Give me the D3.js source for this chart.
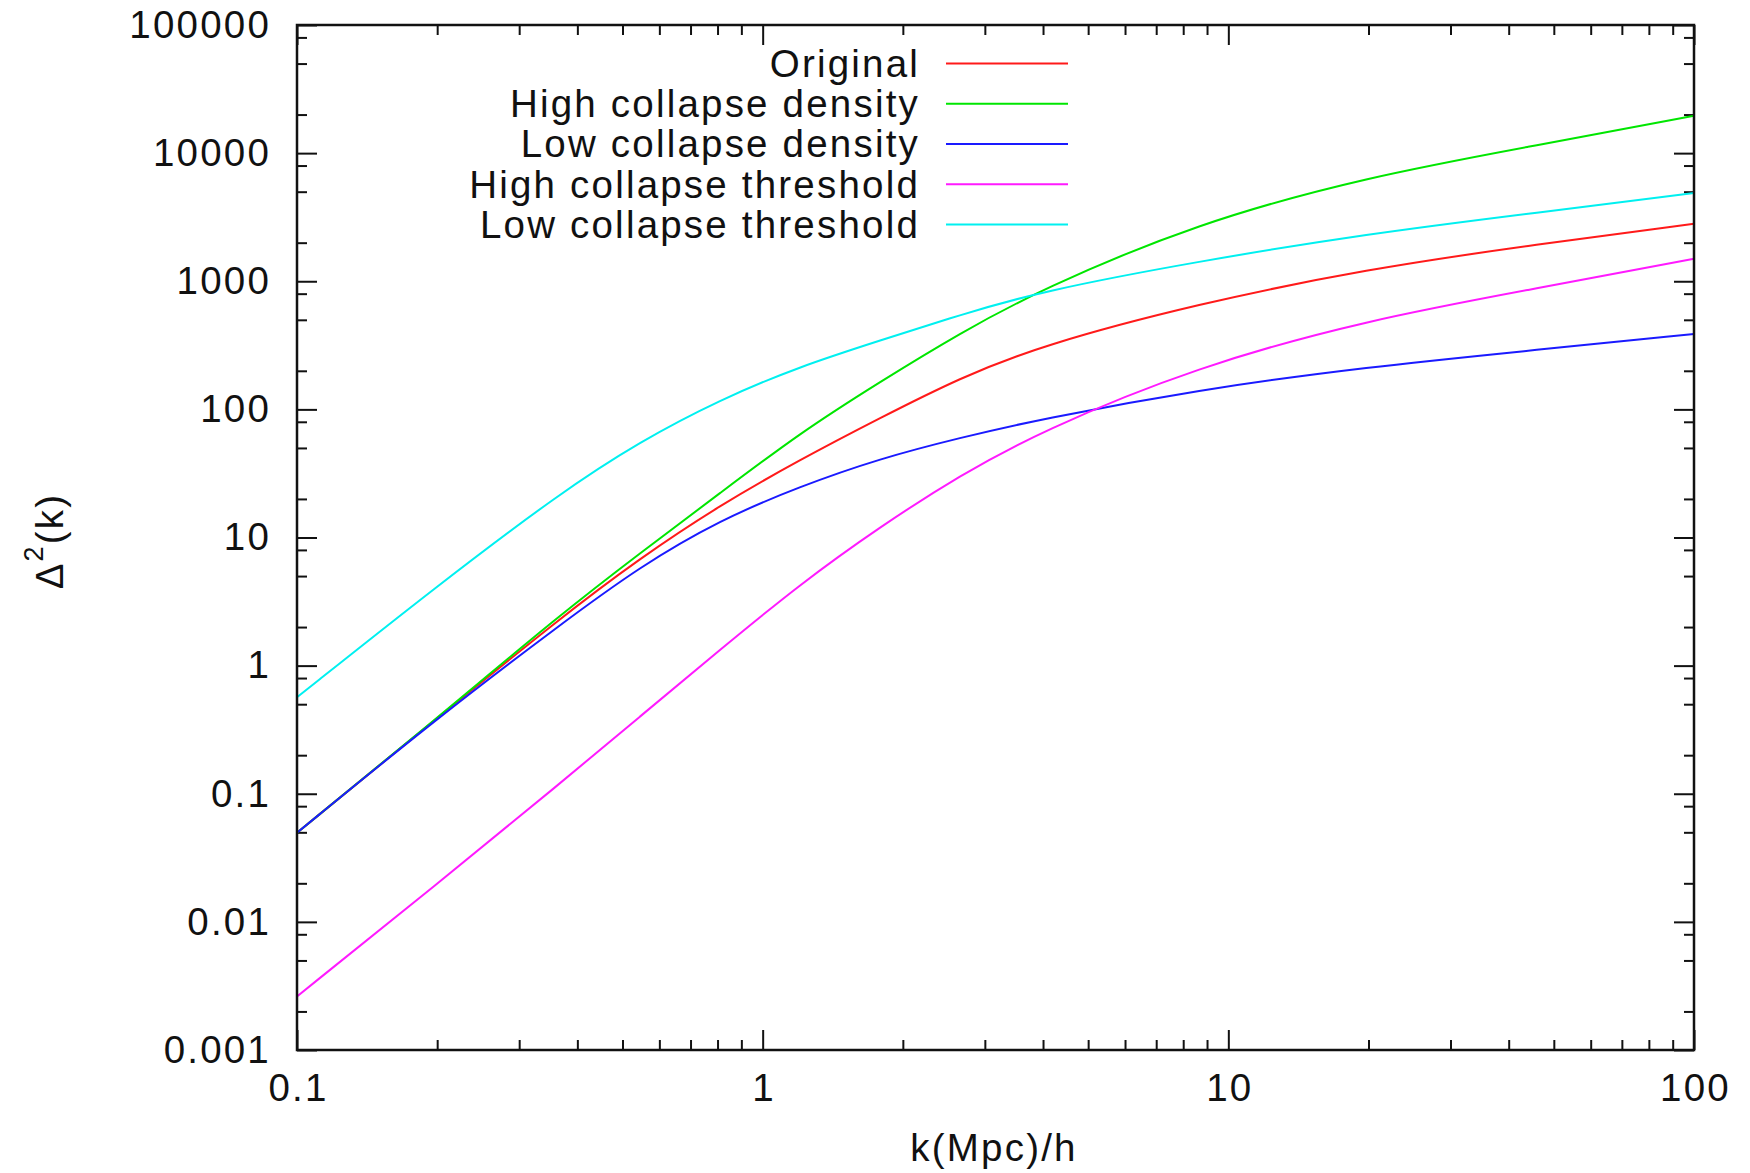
<!DOCTYPE html>
<html>
<head>
<meta charset="utf-8">
<script src="https://cdn.jsdelivr.net/npm/d3@7"></script>
<style>
  body { margin: 0; background: #fff; }
  text { font-family: "Liberation Sans", Arial, sans-serif; fill: #111; letter-spacing: 2.2px; }
</style>
</head>
<body>
<svg id="chart"></svg>
<script>
// wavenumbers (k in Mpc/h)
const kValues = [0.1, 0.2, 0.367, 0.545, 0.81, 1.2, 1.79, 2.65, 3.94, 8.55, 20, 43.7, 100];

const original      = [0.0496, 0.39, 2.34, 6.89, 17.9, 40.3, 86, 176, 313, 665, 1250, 1890, 2805];
const highDensity   = [0.0496, 0.39, 2.49, 7.54, 22.2, 65.2, 165, 393, 857, 2843, 6560, 11140, 19550];
const lowDensity    = [0.0496, 0.39, 2.08, 5.93, 13.7, 25.0, 41.5, 60, 83.8, 142, 215, 286, 388];
const highThreshold = [0.00262, 0.0198, 0.12, 0.40, 1.33, 4.3, 12.2, 30.5, 67.1, 216, 500, 851, 1496];
const lowThreshold  = [0.566, 4.2, 22.2, 56.1, 119, 216, 345, 545, 831, 1426, 2350, 3357, 4875];

const seriesNames = ["Original", "High collapse density", "Low collapse density",
                     "High collapse threshold", "Low collapse threshold"];
const seriesColors = ["#ff1a1a", "#00e600", "#1a1aff", "#ff1aff", "#00f0f0"];
const seriesValues = [original, highDensity, lowDensity, highThreshold, lowThreshold];

const xTickValues = [0.1, 1, 10, 100];
const xTickLabels = ["0.1", "1", "10", "100"];
const yTickValues = [0.001, 0.01, 0.1, 1, 10, 100, 1000, 10000, 100000];
const yTickLabels = ["0.001", "0.01", "0.1", "1", "10", "100", "1000", "10000", "100000"];

const width = 1750, height = 1173;
const plot = { left: 297, right: 1694, top: 25, bottom: 1050 };
const fontSize = 38.5;

const svg = d3.select("#chart")
    .attr("width", width)
    .attr("height", height);

const x = d3.scaleLog().domain([0.1, 100]).range([plot.left, plot.right]);
const y = d3.scaleLog().domain([0.001, 100000]).range([plot.bottom, plot.top]);

// minor ticks: 2..9 on x, 2,5,8 on y (like the original)
const xMinor = [];
[0.1, 1, 10].forEach(d => { for (let m = 2; m <= 9; m++) xMinor.push(d * m); });
const yMinor = [];
[0.001, 0.01, 0.1, 1, 10, 100, 1000, 10000].forEach(d => { [2, 5, 8].forEach(m => yMinor.push(d * m)); });

function styleAxis(g) {
    g.select(".domain").remove();
    g.selectAll(".tick line").attr("stroke", "#111").attr("stroke-width", 2);
    g.selectAll(".tick text").attr("font-size", fontSize).attr("fill", "#111");
}

// bottom axis with labels
svg.append("g")
    .attr("transform", `translate(0,${plot.bottom})`)
    .call(d3.axisBottom(x).tickValues(xTickValues)
        .tickFormat((d, i) => xTickLabels[i]).tickSize(-20).tickPadding(24))
    .call(styleAxis)
    .selectAll(".tick text").attr("dx", 1);
svg.append("g")
    .attr("transform", `translate(0,${plot.bottom})`)
    .call(d3.axisBottom(x).tickValues(xMinor).tickFormat("").tickSize(-10))
    .call(styleAxis);

// top mirror ticks
svg.append("g")
    .attr("transform", `translate(0,${plot.top})`)
    .call(d3.axisTop(x).tickValues(xTickValues).tickFormat("").tickSize(-20))
    .call(styleAxis);
svg.append("g")
    .attr("transform", `translate(0,${plot.top})`)
    .call(d3.axisTop(x).tickValues(xMinor).tickFormat("").tickSize(-10))
    .call(styleAxis);

// left axis with labels
svg.append("g")
    .attr("transform", `translate(${plot.left},0)`)
    .call(d3.axisLeft(y).tickValues(yTickValues)
        .tickFormat((d, i) => yTickLabels[i]).tickSize(-20).tickPadding(26))
    .call(styleAxis);
svg.append("g")
    .attr("transform", `translate(${plot.left},0)`)
    .call(d3.axisLeft(y).tickValues(yMinor).tickFormat("").tickSize(-10))
    .call(styleAxis);

// right mirror ticks
svg.append("g")
    .attr("transform", `translate(${plot.right},0)`)
    .call(d3.axisRight(y).tickValues(yTickValues).tickFormat("").tickSize(-20))
    .call(styleAxis);
svg.append("g")
    .attr("transform", `translate(${plot.right},0)`)
    .call(d3.axisRight(y).tickValues(yMinor).tickFormat("").tickSize(-10))
    .call(styleAxis);

// curves (basis spline smooths the hand-read points)
const line = d3.line()
    .x(d => x(d.k))
    .y(d => y(d.v))
    .curve(d3.curveBasis);

seriesValues.forEach((vals, i) => {
    const pts = kValues.map((k, j) => ({ k: k, v: vals[j] }));
    svg.append("path")
        .datum(pts)
        .attr("fill", "none")
        .attr("stroke", seriesColors[i])
        .attr("stroke-width", 2)
        .attr("d", line);
});

// frame
svg.append("rect")
    .attr("x", plot.left).attr("y", plot.top)
    .attr("width", plot.right - plot.left).attr("height", plot.bottom - plot.top)
    .attr("fill", "none")
    .attr("stroke", "#111")
    .attr("stroke-width", 2.5);

// legend
const legend = svg.append("g");
seriesNames.forEach((name, i) => {
    const ly = 63.6 + i * 40.2;
    legend.append("text")
        .attr("x", 920).attr("y", ly)
        .attr("dy", "0.35em")
        .attr("text-anchor", "end")
        .attr("font-size", fontSize)
        .text(name);
    legend.append("line")
        .attr("x1", 946).attr("x2", 1068)
        .attr("y1", ly).attr("y2", ly)
        .attr("stroke", seriesColors[i])
        .attr("stroke-width", 2);
});

// axis titles
svg.append("text")
    .attr("x", 994).attr("y", 1148)
    .attr("dy", "0.35em")
    .attr("text-anchor", "middle")
    .attr("font-size", fontSize)
    .text("k(Mpc)/h");

const yTitle = svg.append("text")
    .attr("transform", "translate(50,541) rotate(-90)")
    .attr("dy", "0.35em")
    .attr("text-anchor", "middle")
    .attr("font-size", fontSize);
yTitle.append("tspan").text("Δ");
yTitle.append("tspan").attr("font-size", 27).attr("dy", "-0.75em").text("2");
yTitle.append("tspan").attr("dy", "0.52em").text("(k)");
</script>
</body>
</html>
